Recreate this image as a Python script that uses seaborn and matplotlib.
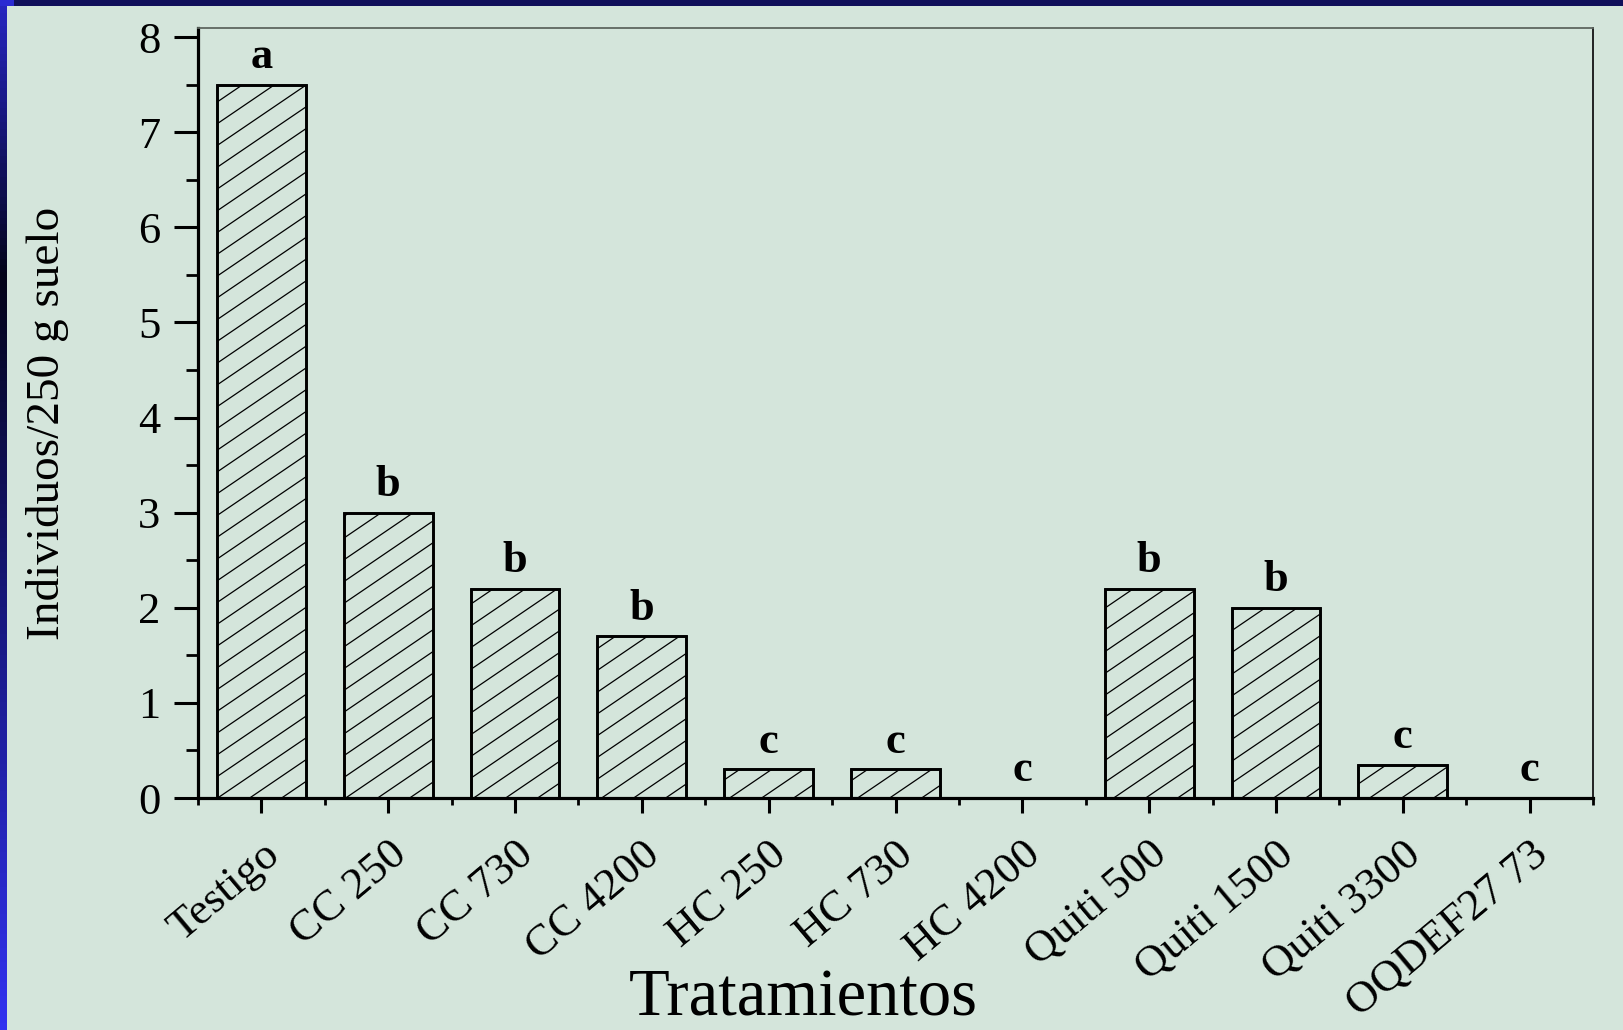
import numpy as np
import pandas as pd
import seaborn as sns
import matplotlib
matplotlib.use("Agg")
import matplotlib.pyplot as plt
from matplotlib.collections import LineCollection
from matplotlib.patches import Rectangle
from matplotlib.ticker import MultipleLocator, FixedLocator

# Treatment means and significance letters
tratamientos = ["Testigo", "CC 250", "CC 730", "CC 4200", "HC 250", "HC 730",
                "HC 4200", "Quiti 500", "Quiti 1500", "Quiti 3300", "OQDEF27 73"]
individuos = [7.5, 3.0, 2.2, 1.7, 0.3, 0.3, 0.0, 2.2, 2.0, 0.35, 0.0]
letras = ["a", "b", "b", "b", "c", "c", "c", "b", "b", "c", "c"]

df = pd.DataFrame({"Tratamiento": tratamientos, "Individuos": individuos})

sns.set_style("ticks")
plt.rcParams["font.family"] = ["Liberation Serif", "DejaVu Serif"]
for key in ["text.color", "axes.labelcolor", "xtick.color", "ytick.color", "axes.edgecolor"]:
    plt.rcParams[key] = "black"

BG = "#d4e5db"
W_IN, H_IN, DPI = 16.23, 10.30, 100

fig = plt.figure(figsize=(W_IN, H_IN), dpi=DPI, facecolor=BG)

# blue slide frame along the top and left edges
fig.add_artist(Rectangle((0, 1 - 6 / 1030), 1, 6 / 1030, transform=fig.transFigure,
                         facecolor="#10105a", edgecolor="none", zorder=5))
fig.add_artist(Rectangle((0, 1 - 6 / 1030), 14 / 1623, 6 / 1030, transform=fig.transFigure,
                         facecolor="#2a2ad2", edgecolor="none", zorder=6))

left_strip = fig.add_axes([0, 0, 7 / 1623, 1 - 6 / 1030])
grad = np.concatenate([np.linspace(0.75, 0.0, 40), np.linspace(0.0, 1.0, 110)])
left_strip.imshow(grad[:, None], aspect="auto",
                  cmap=matplotlib.colors.LinearSegmentedColormap.from_list(
                      "frame", ["#04041a", "#1a1a8a", "#3232f0"]),
                  extent=[0, 1, 0, 1], origin="upper")
left_strip.set_axis_off()

ax = fig.add_axes([198 / 1623, 1 - 798 / 1030, (1593 - 198) / 1623, (798 - 28) / 1030])
ax.set_facecolor(BG)

sns.barplot(data=df, x="Tratamiento", y="Individuos", ax=ax, width=0.7,
            color=BG, edgecolor="black", linewidth=1.9, saturation=1)

ax.set_xlim(-0.5, len(tratamientos) - 0.5)
ax.set_ylim(0, 8.095)

# diagonal hatching clipped to each bar
ax_w = (1593 - 198)
ax_h = (798 - 28)
slope = 0.68
step = 32.0
run = ax_h / slope
starts = np.arange(-run, ax_w + step, step)
segs = [[(x0 / ax_w, 0.0), ((x0 + run) / ax_w, 1.0)] for x0 in starts]
for patch in list(ax.patches):
    lc = LineCollection(segs, colors="black", linewidths=0.9, transform=ax.transAxes,
                        zorder=patch.get_zorder() + 0.1)
    ax.add_collection(lc)
    lc.set_clip_path(patch)
    if patch.get_height() > 0:
        edge = Rectangle(patch.get_xy(), patch.get_width(), patch.get_height(),
                         fill=False, edgecolor="black", linewidth=1.9,
                         zorder=patch.get_zorder() + 0.2)
        ax.add_patch(edge)

# significance letters
for i, (v, l) in enumerate(zip(individuos, letras)):
    ax.annotate(l, (i, v), xytext=(0, 12), textcoords="offset points",
                ha="center", va="baseline", fontsize=32, fontweight="bold")

# spines
for side in ["left", "bottom"]:
    ax.spines[side].set_linewidth(2.3)
    ax.spines[side].set_color("black")
ax.spines["top"].set_linewidth(1.3)
ax.spines["top"].set_color("#5e6660")
ax.spines["right"].set_linewidth(1.4)
ax.spines["right"].set_color("#222222")
ax.spines["top"].set_visible(True)
ax.spines["right"].set_visible(True)

# ticks
ax.yaxis.set_major_locator(MultipleLocator(1))
ax.yaxis.set_minor_locator(MultipleLocator(0.5))
ax.xaxis.set_minor_locator(FixedLocator(np.arange(-0.5, len(tratamientos), 1.0)))
ax.tick_params(axis="y", which="major", direction="out", length=17, width=2.2,
               labelsize=32, pad=10)
ax.tick_params(axis="y", which="minor", direction="out", length=8.5, width=2.0)
ax.tick_params(axis="x", which="major", direction="out", length=11, width=2.2,
               labelsize=32, pad=15)
ax.tick_params(axis="x", which="minor", direction="out", length=5, width=2.0)
ax.tick_params(top=False, right=False, which="both")

ax.set_xticks(range(len(tratamientos)))
ax.set_xticklabels(tratamientos, rotation=40, ha="right", va="top", rotation_mode="anchor")

ax.set_xlabel("Tratamientos", fontsize=48, va="top")
ax.xaxis.set_label_coords(0.434, -0.222)
ax.set_ylabel("Individuos/250 g suelo", fontsize=34, va="center")
ax.yaxis.set_label_coords(-0.108, 0.486)

fig.savefig("out.png", dpi=DPI, facecolor=BG)
